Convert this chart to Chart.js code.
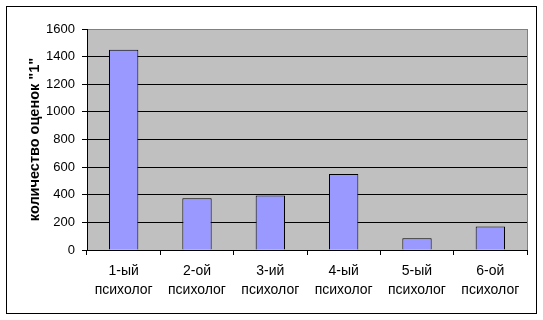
<!DOCTYPE html>
<html>
<head>
<meta charset="utf-8">
<script src="https://cdn.jsdelivr.net/npm/chart.js@4.4.1/dist/chart.umd.min.js"></script>
<style>
  html, body { margin: 0; padding: 0; background: #fff; }
  #wrap { width: 543px; height: 320px; position: relative; }
</style>
</head>
<body>
<div id="wrap"><canvas id="chart" width="543" height="320"></canvas></div>
<script>
// data
const categories = [
    ['1-ый', 'психолог'],
    ['2-ой', 'психолог'],
    ['3-ий', 'психолог'],
    ['4-ый', 'психолог'],
    ['5-ый', 'психолог'],
    ['6-ой', 'психолог']
];
const counts = [1450, 375, 395, 550, 85, 170];
const yTicks = [0, 200, 400, 600, 800, 1000, 1200, 1400, 1600];
const yTitle = 'количество оценок "1"';

const FONT = "'Liberation Sans', Arial, sans-serif";

// grey plot area + outer frame, Excel 2003 style
const frame = {
    id: 'frame',
    beforeDraw(chart) {
        const { ctx, chartArea: a } = chart;
        ctx.save();
        ctx.fillStyle = '#c0c0c0';
        ctx.fillRect(a.left, a.top, a.right - a.left, a.bottom - a.top);
        ctx.strokeStyle = '#808080';
        ctx.lineWidth = 1;
        ctx.strokeRect(a.left + 0.5, a.top + 0.5, a.right - a.left, a.bottom - a.top);
        ctx.strokeStyle = '#000';
        ctx.strokeRect(6.5, 6.5, 530, 307);
        ctx.restore();
    }
};

new Chart(document.getElementById('chart'), {
    type: 'bar',
    data: {
        labels: categories,
        datasets: [{
            data: counts,
            backgroundColor: '#9999ff',
            borderColor: '#000',
            borderWidth: 1,
            borderSkipped: 'bottom',
            barPercentage: 0.4,
            categoryPercentage: 1
        }]
    },
    options: {
        responsive: false,
        animation: false,
        layout: { padding: { top: 29, right: 16, bottom: 0, left: 0 } },
        plugins: {
            legend: { display: false },
            tooltip: { enabled: false }
        },
        scales: {
            x: {
                offset: true,
                grid: { offset: true, drawOnChartArea: false, color: '#000', tickLength: 5 },
                border: { color: '#000' },
                ticks: {
                    color: '#000',
                    autoSkip: false,
                    maxRotation: 0,
                    padding: 7,
                    font: { family: FONT, size: 14, lineHeight: 1.34 }
                },
                afterFit(scale) { scale.height = 70; }
            },
            y: {
                min: 0,
                max: 1600,
                afterBuildTicks(scale) { scale.ticks = yTicks.map(v => ({ value: v })); },
                grid: {
                    color: ctx => ctx.tick && ctx.tick.value === 1600 ? '#808080' : '#000',
                    tickColor: '#000',
                    tickLength: 5
                },
                border: { color: '#000' },
                ticks: {
                    color: '#000',
                    padding: 7,
                    font: { family: FONT, size: 13 },
                    callback: v => String(v)
                },
                title: {
                    display: true,
                    text: yTitle,
                    color: '#000',
                    padding: { top: 26, bottom: 0 },
                    font: { family: FONT, size: 14.5, weight: 'bold' }
                },
                afterFit(scale) { scale.width = 87; }
            }
        }
    },
    plugins: [frame]
});
</script>
</body>
</html>
